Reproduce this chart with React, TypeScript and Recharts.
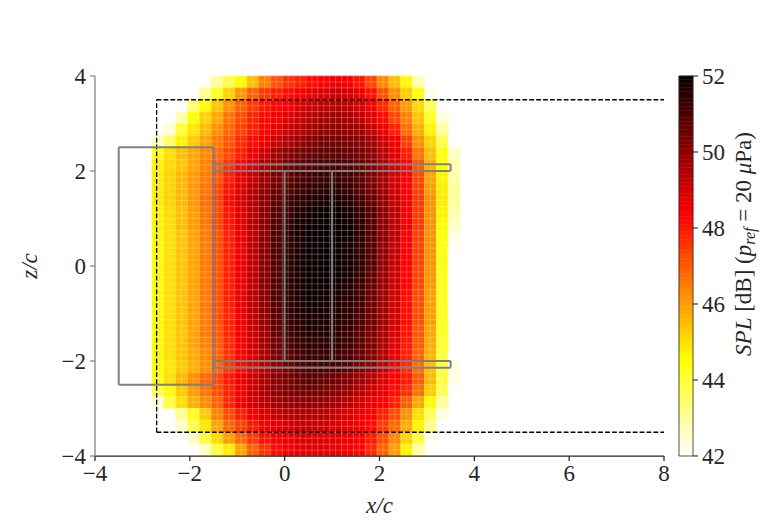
import React from 'react';
import { ComposedChart, XAxis, YAxis, ReferenceArea, ReferenceLine, Scatter } from 'recharts';

const xEdges = [-2.8, -2.55, -2.3, -2.05, -1.8, -1.55, -1.3, -1.05, -0.8, -0.55, -0.3, -0.05, 0.2, 0.45, 0.7, 0.95, 1.2, 1.45, 1.7, 1.95, 2.2, 2.45, 2.7, 2.95, 3.2, 3.45, 3.7, 3.95];
const zEdges = [4, 3.75, 3.5, 3.25, 3, 2.75, 2.5, 2.25, 2, 1.75, 1.5, 1.25, 1, 0.75, 0.5, 0.25, 0, -0.25, -0.5, -0.75, -1, -1.25, -1.5, -1.75, -2, -2.25, -2.5, -2.75, -3, -3.25, -3.5, -3.75, -4];

// SPL [dB], rows from z=4 (top) to z=-4 (bottom), columns from x=-2.8 to 3.95
const spl = [
  [40,40,40.5,41.2,42.1,43.0,43.8,44.6,45.5,46.4,47.1,47.6,47.9,48.2,48.4,48.6,48.5,48.1,47.3,46.3,45.5,44.6,42.8,41,40,40,40],
  [40,40.6,41.3,41.9,43.1,44.3,45.2,46.1,46.9,47.5,47.9,48.2,48.4,48.7,48.9,49.1,49.0,48.7,48.1,47.2,46.2,45.3,44.4,42.2,40.5,40,40],
  [40.3,41.1,42.0,43.4,44.6,45.4,46.2,46.9,47.5,48.0,48.3,48.6,48.9,49.1,49.3,49.45,49.3,49.0,48.5,47.8,46.9,46.0,45.1,43.7,41.6,40.2,40],
  [40.8,41.7,42.8,44.5,45.2,45.8,46.6,47.2,47.8,48.2,48.5,48.8,49.1,49.4,49.6,49.7,49.6,49.3,48.8,48.2,47.3,46.4,45.4,44.2,42.4,40.6,40],
  [41.3,42.4,44.0,44.9,45.5,46.2,46.8,47.4,47.9,48.3,48.7,49.1,49.4,49.7,49.9,50.0,49.9,49.7,49.2,48.6,47.9,46.7,45.7,44.7,43.0,41.1,40],
  [42.6,43.6,44.7,45.3,45.9,46.5,47.1,47.7,48.2,48.6,49.1,49.5,49.9,50.2,50.4,50.4,50.3,50.1,49.7,49.1,48.5,47.4,46.2,45.2,43.8,42.0,40.5],
  [44.3,45.0,45.5,45.9,46.3,46.8,47.3,47.9,48.5,49.1,49.7,50.1,50.4,50.6,50.7,50.7,50.6,50.4,50.0,49.4,48.8,47.9,46.6,45.5,44.4,42.6,40.8],
  [44.7,45.1,45.4,45.9,46.4,46.9,47.6,48.3,48.9,49.5,50.0,50.4,50.7,50.9,51.0,51.0,50.9,50.6,50.2,49.6,48.9,48.3,47.1,45.7,44.5,42.8,41.0],
  [44.8,45.2,45.6,46.0,46.5,47.1,47.9,48.6,49.2,49.8,50.3,50.7,51.0,51.2,51.3,51.3,51.1,50.8,50.3,49.7,49.0,48.4,47.3,45.9,44.7,42.9,41.1],
  [44.8,45.2,45.6,46.1,46.6,47.3,48.1,48.8,49.4,49.95,50.5,50.9,51.2,51.4,51.5,51.5,51.3,50.9,50.4,49.8,49.1,48.4,47.4,46.0,44.8,43.0,41.2],
  [44.8,45.2,45.6,46.1,46.7,47.4,48.2,48.9,49.5,50.1,50.7,51.2,51.5,51.7,51.8,51.8,51.6,51.2,50.7,50.0,49.2,48.5,47.5,46.2,44.8,43.0,41.2],
  [44.7,45.1,45.5,46.0,46.6,47.3,48.1,48.8,49.4,50.1,50.8,51.3,51.7,51.9,52.0,52.0,51.8,51.4,50.9,50.1,49.3,48.5,47.5,46.2,44.7,42.9,41.1],
  [44.7,45.0,45.5,46.0,46.6,47.3,48.0,48.7,49.4,50.1,50.9,51.4,51.8,52.0,52.1,52.1,51.9,51.5,50.9,50.1,49.3,48.5,47.5,46.2,44.6,42.6,40.9],
  [44.6,45.0,45.4,45.9,46.5,47.2,47.9,48.6,49.3,50.1,50.9,51.5,51.8,52.0,52.1,52.1,51.9,51.5,50.9,50.1,49.3,48.4,47.4,46.2,44.5,42.3,40.7],
  [44.6,45.0,45.4,45.9,46.5,47.2,47.9,48.6,49.3,50.1,50.9,51.5,51.8,52.0,52.1,52.1,51.8,51.5,50.9,50.0,49.2,48.4,47.4,46.2,44.4,42.1,40.6],
  [44.6,45.0,45.4,45.9,46.5,47.2,47.9,48.6,49.3,50.1,50.9,51.5,51.8,52.0,52.0,52.0,51.8,51.5,50.9,50.0,49.2,48.4,47.4,46.2,44.4,42.0,40.5],
  [44.6,45.0,45.4,45.9,46.5,47.2,47.9,48.6,49.3,50.1,50.9,51.5,51.8,52.0,52.0,52.0,51.8,51.4,50.8,49.9,49.1,48.3,47.3,46.1,44.3,42.0,40.5],
  [44.6,45.0,45.4,45.9,46.5,47.2,47.9,48.6,49.3,50.1,50.9,51.5,51.8,52.0,52.0,51.9,51.7,51.3,50.7,49.9,49.1,48.3,47.3,46.1,44.3,42.0,40.5],
  [44.6,45.0,45.4,45.9,46.5,47.2,47.9,48.6,49.3,50.1,50.9,51.5,51.8,52.0,51.9,51.8,51.6,51.2,50.6,49.8,49.0,48.2,47.2,46.0,44.3,42.0,40.5],
  [44.6,45.0,45.4,45.9,46.5,47.2,47.9,48.6,49.3,50.0,50.8,51.4,51.7,51.9,51.8,51.7,51.5,51.1,50.5,49.8,49.0,48.2,47.2,46.0,44.3,42.0,40.5],
  [44.6,45.0,45.4,45.9,46.5,47.2,47.8,48.5,49.2,49.9,50.7,51.3,51.6,51.8,51.7,51.6,51.4,51.0,50.5,49.8,49.0,48.2,47.2,46.0,44.3,42.0,40.5],
  [44.6,45.0,45.4,45.9,46.5,47.1,47.8,48.5,49.1,49.8,50.6,51.2,51.5,51.7,51.6,51.5,51.3,50.9,50.4,49.7,48.9,48.1,47.1,45.9,44.2,41.9,40.4],
  [44.6,45.0,45.4,45.9,46.4,47.0,47.7,48.4,49.0,49.7,50.4,51.0,51.3,51.5,51.5,51.4,51.2,50.8,50.3,49.6,48.8,48.0,47.0,45.8,44.1,41.8,40.3],
  [44.6,45.0,45.4,45.8,46.3,46.9,47.6,48.3,48.9,49.6,50.3,50.8,51.1,51.3,51.3,51.2,51.0,50.6,50.2,49.5,48.7,47.9,46.9,45.7,44.0,42.0,40.5],
  [44.5,44.9,45.3,45.7,46.2,46.8,47.5,48.2,48.8,49.4,50.0,50.5,50.9,51.1,51.1,51.0,50.8,50.4,50.0,49.3,48.5,47.7,46.7,45.5,43.9,42.3,40.9],
  [44.4,45.0,45.6,46.2,46.8,47.4,48.0,48.6,49.1,49.6,50.1,50.4,50.7,50.8,50.7,50.5,50.2,49.8,49.4,48.9,48.4,48.0,47.0,45.6,43.9,42.3,41.0],
  [43.8,44.6,45.3,46.0,46.6,47.2,47.9,48.5,49.1,49.6,50.0,50.3,50.5,50.5,50.4,50.2,49.9,49.5,49.1,48.7,48.2,47.7,46.7,45.3,43.7,42.1,40.8],
  [42.4,43.9,45.0,45.7,46.3,46.9,47.8,48.5,49.0,49.4,49.7,49.9,50.0,50.0,49.9,49.7,49.4,49.0,48.7,48.4,47.9,47.0,45.9,44.6,43.0,41.6,40.4],
  [40.8,41.9,43.1,44.3,45.3,46.4,47.2,47.9,48.5,48.9,49.2,49.4,49.5,49.5,49.4,49.2,48.9,48.6,48.4,47.9,47.2,46.2,45.0,43.7,42.3,41.0,40],
  [40.5,41.5,42.5,43.8,44.9,45.9,46.8,47.4,48.0,48.5,48.8,49.0,49.2,49.2,49.1,48.9,48.7,48.5,48.2,47.5,46.8,45.8,44.7,43.2,41.8,40.5,40],
  [40,40.8,41.6,42.6,44.0,45.1,46.0,46.8,47.5,48.1,48.5,48.7,48.9,48.95,48.9,48.8,48.6,48.4,48.0,47.2,46.3,45.2,43.9,42.2,40.8,40,40],
  [40,40.3,41.0,41.7,42.6,43.9,44.8,45.9,46.9,47.6,48.2,48.5,48.7,48.8,48.8,48.7,48.5,48.3,47.8,46.9,46.0,44.7,42.9,41.0,40,40,40],
];

const xTicks = [-4, -2, 0, 2, 4, 6, 8];
const zTicks = [-4, -2, 0, 2, 4];
const cbarTicks = [42, 44, 46, 48, 50, 52];
const V_MIN = 42;
const V_MAX = 52;

// Outlined geometry (x1, x2, z1, z2)
const boxes = [
  { x1: -3.5, x2: -1.5, z1: -2.5, z2: 2.5 },
  { x1: -1.5, x2: 3.5, z1: 2.0, z2: 2.14 },
  { x1: -1.5, x2: 3.5, z1: -2.14, z2: -2.0 },
  { x1: 0, x2: 1, z1: -2.0, z2: 2.0 },
];
const dashedBox = { x1: -2.7, x2: 8, z1: -3.5, z2: 3.5 };

const FONT = "'Liberation Serif', 'Times New Roman', serif";
const TEXT = '#262626';

const clamp = (v: number) => Math.max(0, Math.min(1, v));
function hotR(v: number): string {
  if (v < V_MIN) return '#ffffff';
  const t = clamp((v - V_MIN) / (V_MAX - V_MIN));
  const x = 1 - t;
  const r = clamp(0.0416 + (x / 0.365079) * (1 - 0.0416));
  const g = clamp((x - 0.365079) / (0.746032 - 0.365079));
  const b = clamp((x - 0.746032) / (1 - 0.746032));
  return `rgb(${Math.round(r * 255)},${Math.round(g * 255)},${Math.round(b * 255)})`;
}

const minus = (v: number) => String(v).replace('-', '\u2212');

const cells: { x1: number; x2: number; z1: number; z2: number; v: number }[] = [];
spl.forEach((row, i) => {
  row.forEach((v, j) => {
    if (v >= V_MIN) cells.push({ x1: xEdges[j], x2: xEdges[j + 1], z1: zEdges[i + 1], z2: zEdges[i], v });
  });
});

// faint mesh lines (styling), at cell edges and cell mid-lines
const meshX: number[] = [];
for (let j = 0; j < xEdges.length - 1; j++) { meshX.push(xEdges[j]); meshX.push((xEdges[j] + xEdges[j + 1]) / 2); }
meshX.push(xEdges[xEdges.length - 1]);
const meshZ: number[] = [];
for (let i = 0; i < zEdges.length - 1; i++) { meshZ.push(zEdges[i]); meshZ.push((zEdges[i] + zEdges[i + 1]) / 2); }
meshZ.push(zEdges[zEdges.length - 1]);

const cbarSteps: { lo: number; hi: number }[] = [];
for (let k = 0; k < 100; k++) cbarSteps.push({ lo: V_MIN + (k * (V_MAX - V_MIN)) / 100, hi: V_MIN + ((k + 1) * (V_MAX - V_MIN)) / 100 });

const anchors = [{ x: -4, y: -4 }, { x: 8, y: 4 }];
const cbAnchors = [{ x: 0, y: 42 }, { x: 1, y: 52 }];

const tickStyle = { fontFamily: FONT, fontSize: 23, fill: TEXT };

function boxSegments(b: { x1: number; x2: number; z1: number; z2: number }) {
  return [
    [{ x: b.x1, y: b.z1 }, { x: b.x2, y: b.z1 }],
    [{ x: b.x2, y: b.z1 }, { x: b.x2, y: b.z2 }],
    [{ x: b.x2, y: b.z2 }, { x: b.x1, y: b.z2 }],
    [{ x: b.x1, y: b.z2 }, { x: b.x1, y: b.z1 }],
  ];
}

export default function App() {
  return (
    <div style={{ position: 'absolute', left: 0, top: 0, width: 768, height: 528, background: '#fff' }}>
      <div style={{ position: 'absolute', left: 0, top: 0 }}>
        <ComposedChart width={768} height={528} margin={{ top: 76, right: 104, bottom: 0, left: 0 }}>
          <XAxis
            type="number"
            dataKey="x"
            domain={[-4, 8]}
            ticks={xTicks}
            allowDataOverflow
            height={72}
            tickSize={5}
            tickMargin={4}
            tickFormatter={minus}
            tick={tickStyle}
            axisLine={{ stroke: TEXT, strokeWidth: 1.25 }}
            tickLine={{ stroke: TEXT, strokeWidth: 1.25 }}
          />
          <YAxis
            type="number"
            dataKey="y"
            domain={[-4, 4]}
            ticks={zTicks}
            allowDataOverflow
            width={95}
            tickSize={5}
            tickMargin={4}
            tickFormatter={minus}
            tick={tickStyle}
            axisLine={{ stroke: '#808080', strokeWidth: 1.25 }}
            tickLine={{ stroke: '#808080', strokeWidth: 1.25 }}
          />
          <Scatter data={anchors} fill="none" isAnimationActive={false} />
          {cells.map((c, k) => (
            <ReferenceArea
              key={'c' + k}
              x1={c.x1}
              x2={c.x2}
              y1={c.z1}
              y2={c.z2}
              fill={hotR(c.v)}
              fillOpacity={1}
              stroke={hotR(c.v)}
              strokeWidth={0.6}
              ifOverflow="visible"
            />
          ))}
          {meshX.map((x, k) => (
            <ReferenceLine key={'mx' + k} segment={[{ x, y: -4 }, { x, y: 4 }]} stroke="#ffffff" strokeOpacity={0.3} strokeWidth={0.8} ifOverflow="visible" />
          ))}
          {meshZ.map((z, k) => (
            <ReferenceLine key={'mz' + k} segment={[{ x: xEdges[0], y: z }, { x: xEdges[xEdges.length - 1], y: z }]} stroke="#ffffff" strokeOpacity={0.3} strokeWidth={0.8} ifOverflow="visible" />
          ))}
          {[
            [{ x: dashedBox.x1, y: dashedBox.z2 }, { x: dashedBox.x2, y: dashedBox.z2 }],
            [{ x: dashedBox.x1, y: dashedBox.z1 }, { x: dashedBox.x2, y: dashedBox.z1 }],
            [{ x: dashedBox.x1, y: dashedBox.z1 }, { x: dashedBox.x1, y: dashedBox.z2 }],
          ].map((seg, k) => (
            <ReferenceLine key={'d' + k} segment={seg} stroke="#000000" strokeWidth={1.3} strokeDasharray="4.8 2.1" ifOverflow="visible" />
          ))}
          {boxes.flatMap((b, bi) =>
            boxSegments(b).map((seg, k) => (
              <ReferenceLine key={'b' + bi + '-' + k} segment={seg} stroke="#808080" strokeWidth={2} ifOverflow="visible" />
            ))
          )}
        </ComposedChart>
      </div>
      <div style={{ position: 'absolute', left: 669, top: 0 }}>
        <ComposedChart width={99} height={528} margin={{ top: 76, right: 0, bottom: 72, left: 10 }}>
          <XAxis type="number" dataKey="x" domain={[0, 1]} hide />
          <YAxis
            type="number"
            dataKey="y"
            orientation="right"
            domain={[V_MIN, V_MAX]}
            ticks={cbarTicks}
            width={75}
            tickSize={5}
            tickMargin={4}
            tick={tickStyle}
            axisLine={false}
            tickLine={{ stroke: TEXT, strokeWidth: 1.1 }}
          />
          <Scatter data={cbAnchors} fill="none" isAnimationActive={false} />
          {cbarSteps.map((s, k) => (
            <ReferenceArea key={'s' + k} x1={0} x2={1} y1={s.lo} y2={s.hi} fill={hotR((s.lo + s.hi) / 2)} fillOpacity={1} stroke={hotR((s.lo + s.hi) / 2)} strokeWidth={0.5} ifOverflow="visible" />
          ))}
          <ReferenceArea x1={0} x2={1} y1={V_MIN} y2={V_MAX} fill="none" fillOpacity={0} stroke={TEXT} strokeWidth={0.8} ifOverflow="visible" />
        </ComposedChart>
      </div>
      <svg width={768} height={528} style={{ position: 'absolute', left: 0, top: 0, pointerEvents: 'none' }}>
        <text x={379.5} y={513} textAnchor="middle" fontFamily={FONT} fontSize={23} fontStyle="italic" fill={TEXT}>x/c</text>
        <text x={37} y={266} textAnchor="middle" fontFamily={FONT} fontSize={23} fontStyle="italic" fill={TEXT} transform="rotate(-90 37 266)">z/c</text>
        <text x={751} y={244} textAnchor="middle" fontFamily={FONT} fontSize={23} fill={TEXT} transform="rotate(-90 751 244)">
          <tspan fontStyle="italic">SPL</tspan>
          <tspan> [dB] (</tspan>
          <tspan fontStyle="italic">p</tspan>
          <tspan fontStyle="italic" fontSize={16} dy={4}>ref</tspan>
          <tspan dy={-4}> = 20 </tspan>
          <tspan fontStyle="italic">μ</tspan>
          <tspan>Pa)</tspan>
        </text>
      </svg>
    </div>
  );
}
